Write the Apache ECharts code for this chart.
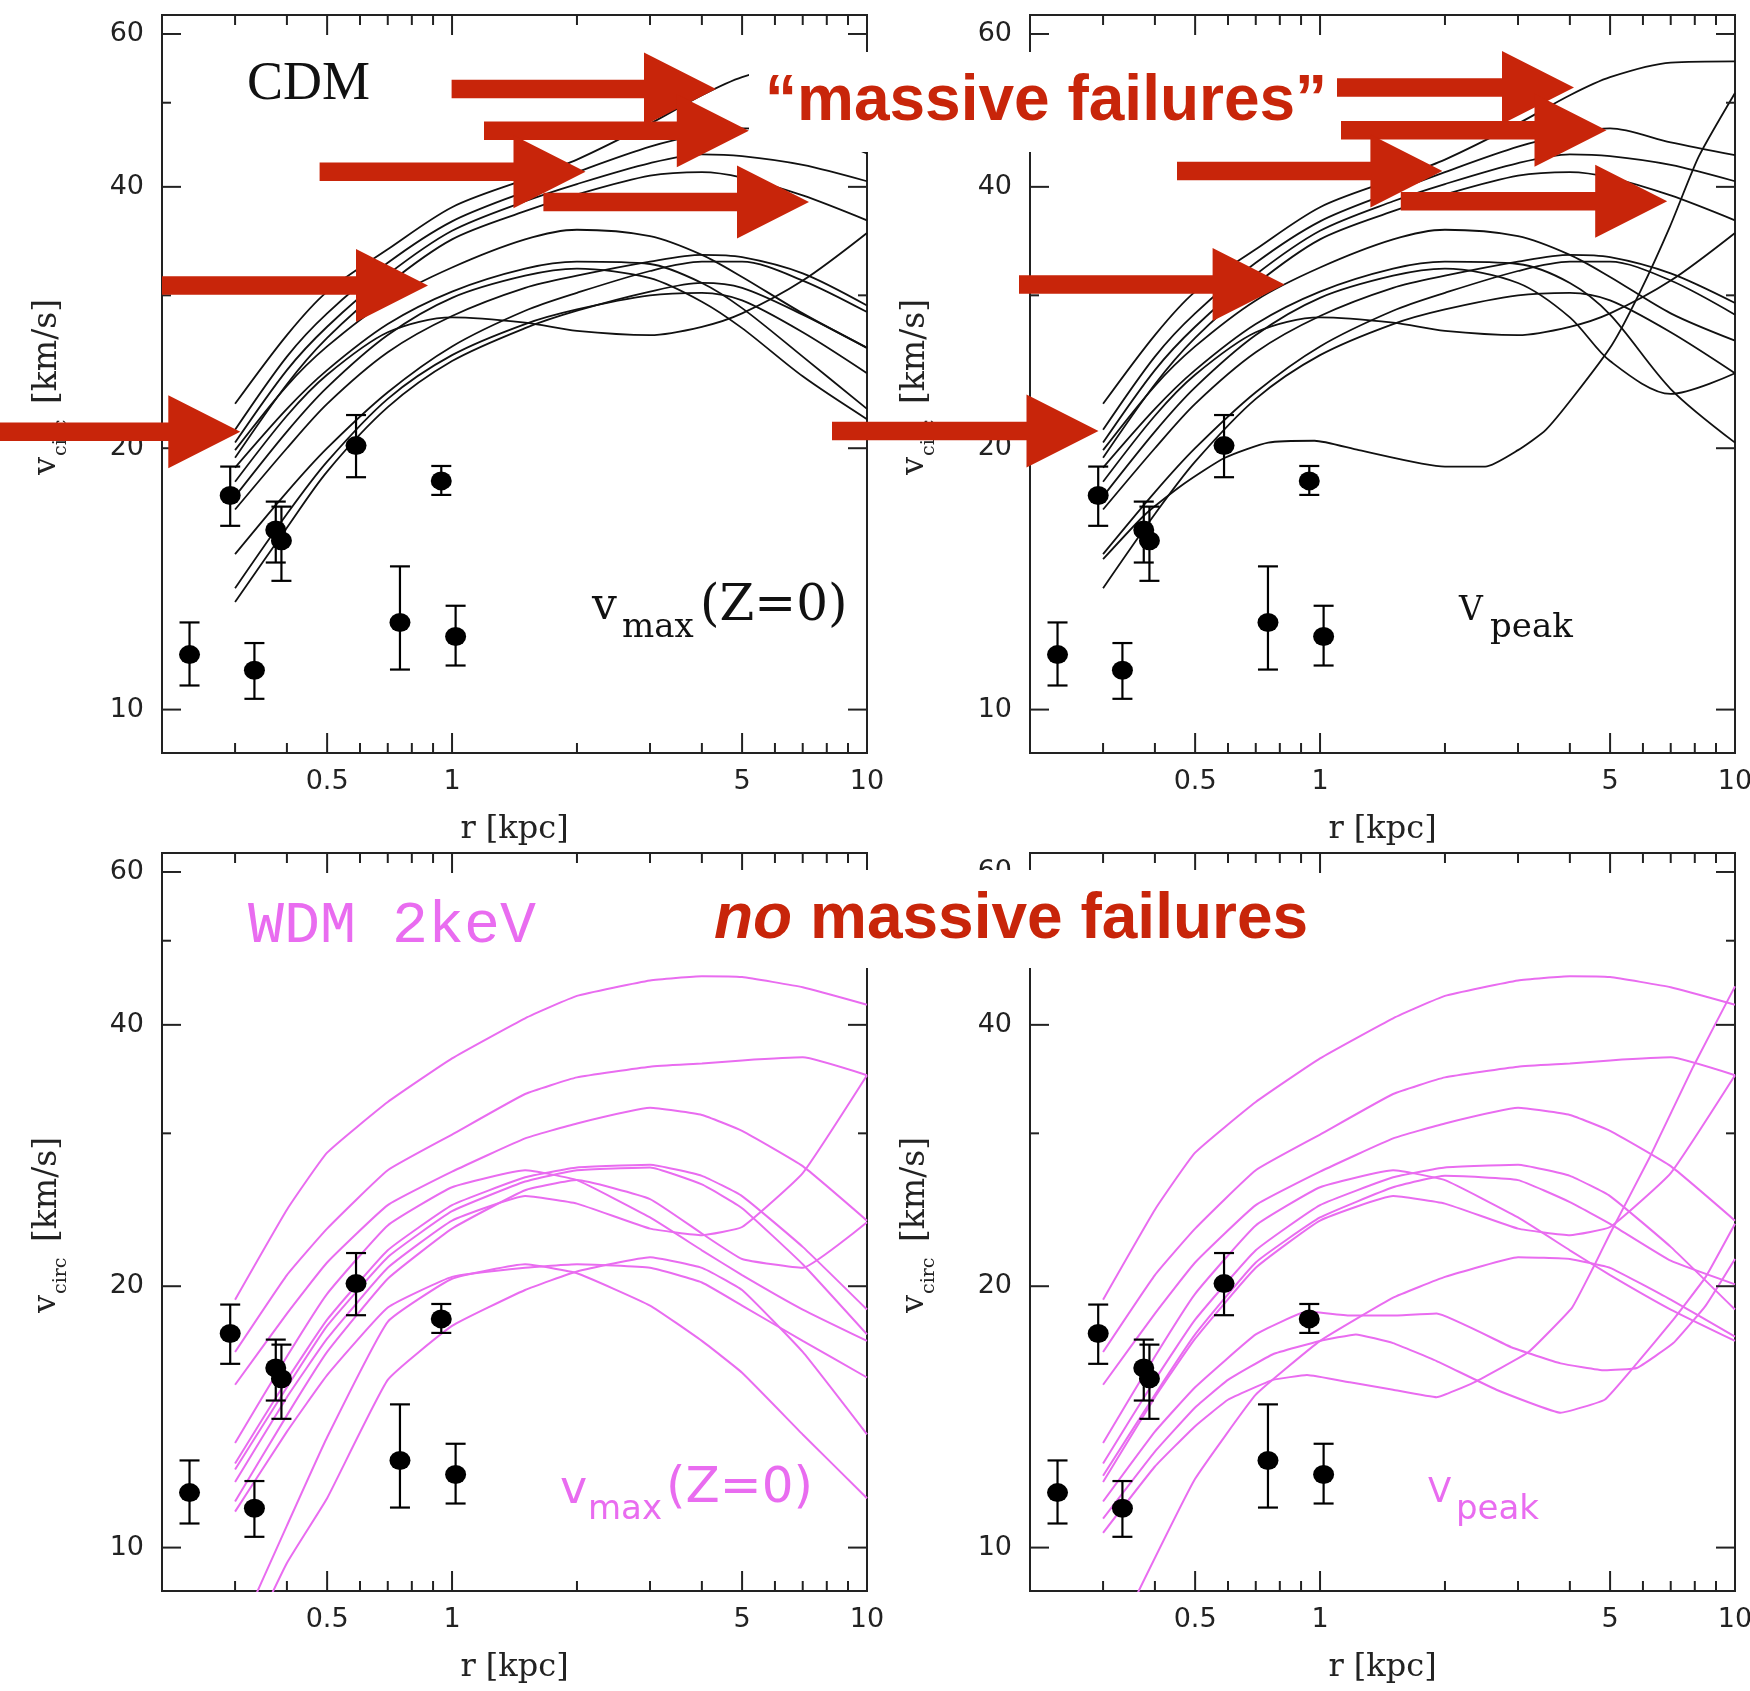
<!DOCTYPE html>
<html><head><meta charset="utf-8">
<script src="https://cdn.jsdelivr.net/npm/echarts@6/dist/echarts.min.js"></script>
<style>html,body{margin:0;padding:0;background:#fff}#c{width:1750px;height:1691px}</style>
</head><body><div id="c"></div>
<script>
// ---------------- DATA ----------------
const xMajorTicks = [0.5, 1, 5, 10];
const xMinorTicks = [0.3, 0.4, 0.6, 0.7, 0.8, 0.9, 2, 3, 4, 6, 7, 8, 9];
const yMajorTicks = [10, 20, 40, 60];
const yMinorTicks = [30, 50];

// observed dwarf spheroidals (r [kpc], v_circ [km/s], error range)
const obsR  = [0.233, 0.292, 0.334, 0.376, 0.388, 0.587, 0.749, 0.942, 1.02];
const obsV  = [11.57, 17.64, 11.10, 16.10, 15.65, 20.14, 12.60, 18.34, 12.14];
const obsLo = [10.66, 16.28, 10.29, 14.77, 14.07, 18.52, 11.12, 17.67, 11.24];
const obsHi = [12.60, 19.05, 11.93, 17.36, 17.13, 21.84, 14.62, 19.08, 13.17];

// common radius grid for the rotation curves
const rGrid = [0.3, 0.4, 0.5, 0.7, 1, 1.5, 2, 3, 4, 5, 7, 10];

// CDM, vmax(z=0) selection
const cdmVmaxCurves = [
  [22.5, 27.0, 30.3, 33.9, 37.9, 40.8, 43.0, 47.3, 51.0, 53.5, 55.6, 55.8],
  [21.0, 25.5, 28.6, 32.7, 36.5, 39.5, 41.6, 44.5, 46.0, 46.7, 46.3, 43.7],
  [20.3, 24.6, 27.6, 31.7, 35.6, 38.5, 40.3, 42.6, 43.6, 43.4, 42.4, 40.6],
  [19.5, 23.7, 26.8, 30.9, 34.8, 37.5, 39.2, 41.2, 41.6, 41.0, 39.1, 36.6],
  [19.9, 23.6, 26.2, 29.6, 32.3, 34.8, 35.7, 35.1, 33.4, 31.5, 28.6, 26.1],
  [19.0, 22.2, 24.6, 27.8, 30.3, 32.2, 32.8, 32.6, 31.0, 29.0, 25.5, 22.2],
  [17.6, 20.9, 23.5, 27.0, 29.8, 31.6, 32.2, 31.4, 29.5, 27.5, 24.2, 21.6],
  [18.3, 21.8, 24.3, 27.2, 28.3, 27.9, 27.3, 27.0, 27.6, 28.6, 31.2, 35.4],
  [17.0, 20.0, 22.5, 25.8, 28.4, 30.6, 31.6, 32.8, 33.4, 33.2, 31.8, 29.2],
  [15.1, 17.8, 20.0, 23.2, 26.2, 28.8, 30.2, 32.0, 32.8, 32.8, 31.2, 28.7],
  [13.8, 16.8, 19.3, 22.8, 25.6, 27.8, 28.9, 30.0, 30.2, 29.6, 27.2, 24.4],
  [13.3, 16.2, 18.8, 22.3, 25.2, 27.5, 28.8, 30.3, 31.0, 30.6, 28.5, 26.1]
];
// CDM, Vpeak selection
const cdmVpeakCurves = [
  [22.5, 27.0, 30.3, 33.9, 37.9, 40.8, 43.0, 47.3, 51.0, 53.5, 55.6, 55.8],
  [21.0, 25.5, 28.6, 32.7, 36.5, 39.5, 41.6, 44.5, 46.0, 46.7, 45.0, 43.5],
  [20.3, 24.6, 27.6, 31.7, 35.6, 38.5, 40.3, 42.6, 43.6, 43.4, 42.4, 40.6],
  [19.5, 23.7, 26.8, 30.9, 34.8, 37.5, 39.2, 41.2, 41.6, 41.0, 39.1, 36.6],
  [19.9, 23.6, 26.2, 29.6, 32.3, 34.8, 35.7, 35.1, 33.4, 31.5, 28.6, 26.6],
  [19.0, 22.2, 24.6, 27.8, 30.3, 32.2, 32.8, 32.6, 31.0, 28.5, 23.4, 20.3],
  [17.6, 20.9, 23.5, 27.0, 29.8, 31.6, 32.2, 31.0, 28.3, 25.2, 23.1, 24.4],
  [18.3, 21.8, 24.3, 27.2, 28.3, 27.9, 27.3, 27.0, 27.6, 28.6, 31.2, 35.4],
  [17.0, 20.0, 22.5, 25.8, 28.4, 30.6, 31.6, 32.8, 33.4, 33.2, 31.8, 29.4],
  [15.1, 17.8, 20.0, 23.2, 26.2, 28.8, 30.2, 32.0, 32.8, 32.8, 31.2, 28.5],
  [13.8, 16.8, 19.3, 22.8, 25.6, 27.8, 28.9, 30.0, 30.2, 29.6, 27.2, 24.4]
];
const cdmVpeakDipR = [0.3, 0.38, 0.47, 0.59, 0.75, 0.97, 1.24, 2.0, 2.5, 3.0, 3.5, 4.1, 5.05, 5.93, 6.97, 8.17, 10];
const cdmVpeakDipV = [14.9, 16.8, 18.2, 19.5, 20.3, 20.4, 19.9, 19.05, 19.05, 19.9, 21.0, 23.0, 26.3, 30.4, 36.0, 43.3, 51.3];

// WDM 2keV, vmax(z=0) selection
const wdmVmaxCurves = [
  [19.3, 24.5, 28.5, 32.6, 36.6, 40.7, 43.2, 45.0, 45.5, 45.4, 44.2, 42.2],
  [16.8, 20.6, 23.3, 27.2, 29.9, 33.3, 34.8, 35.8, 36.1, 36.4, 36.7, 35.0],
  [15.4, 18.6, 21.3, 24.8, 27.1, 29.6, 30.8, 32.1, 31.5, 30.2, 27.5, 23.8],
  [13.2, 16.6, 19.6, 23.5, 26.0, 27.2, 26.5, 24.0, 22.0, 20.6, 18.8, 17.3],
  [12.5, 15.6, 18.3, 22.0, 24.8, 26.7, 27.4, 27.6, 26.8, 25.4, 22.2, 18.8],
  [12.3, 15.3, 18.0, 21.6, 24.4, 26.4, 27.2, 27.4, 26.2, 24.6, 21.2, 17.6],
  [11.9, 14.9, 17.4, 21.0, 23.8, 25.4, 24.9, 23.3, 22.9, 23.4, 27.0, 35.0],
  [11.3, 14.2, 16.8, 20.4, 23.3, 25.8, 26.5, 25.2, 23.0, 21.5, 21.0, 23.7],
  [7.8, 10.6, 13.4, 18.2, 20.4, 21.2, 20.7, 19.0, 17.3, 15.9, 13.5, 11.4],
  [7.2, 9.6, 11.4, 15.6, 18.0, 19.8, 20.8, 21.6, 21.0, 19.8, 16.8, 13.5],
  [11.0, 13.6, 15.8, 18.9, 20.5, 21.0, 21.2, 21.0, 20.2, 19.0, 17.3, 15.7]
];
// WDM 2keV, Vpeak selection
const wdmVpeakCurves = [
  [19.3, 24.5, 28.5, 32.6, 36.6, 40.7, 43.2, 45.0, 45.5, 45.4, 44.2, 42.2],
  [16.8, 20.6, 23.3, 27.2, 29.9, 33.3, 34.8, 35.8, 36.1, 36.4, 36.7, 35.0],
  [15.4, 18.6, 21.3, 24.8, 27.1, 29.6, 30.8, 32.1, 31.5, 30.2, 27.5, 23.8],
  [13.2, 16.6, 19.6, 23.5, 26.0, 27.2, 26.5, 24.0, 22.0, 20.6, 18.8, 17.3],
  [12.5, 15.6, 18.3, 22.0, 24.8, 26.7, 27.4, 27.6, 26.8, 25.4, 22.2, 18.8],
  [11.9, 14.9, 17.4, 21.0, 23.8, 25.4, 24.9, 23.3, 22.9, 23.4, 27.0, 35.0],
  [12.1, 15.0, 17.6, 21.3, 24.0, 26.0, 26.8, 26.5, 25.0, 23.6, 21.4, 20.1]
];
const wdmVpeakD1R = [0.3, 0.4, 0.5, 0.6, 0.77, 0.93, 1.18, 1.5, 1.91, 2.35, 3.18, 4.05, 4.55, 5.0, 6.24, 7.93, 10];
const wdmVpeakD1V = [10.4, 12.4, 13.8, 14.8, 15.6, 15.8, 15.5, 15.2, 14.9, 15.5, 16.8, 18.9, 21.0, 23.0, 28.2, 35.8, 44.3];
const wdmVpeakD2R = [0.3, 0.4, 0.5, 0.6, 0.77, 1.0, 1.22, 1.5, 1.91, 2.66, 3.8, 4.85, 5.8, 7.1, 8.5, 10];
const wdmVpeakD2V = [10.8, 12.9, 14.5, 15.6, 16.7, 17.3, 17.6, 17.2, 16.4, 15.2, 14.3, 14.8, 16.3, 18.3, 20.5, 23.6];
const wdmVpeakD3R = [0.3, 0.4, 0.5, 0.7, 0.93, 1.18, 1.5, 1.91, 2.9, 3.8, 4.85, 5.8, 7.1, 8.5, 10];
const wdmVpeakD3V = [11.3, 13.6, 15.3, 17.6, 18.7, 18.5, 18.5, 18.6, 17.0, 16.3, 16.0, 16.1, 17.2, 19.0, 21.5];
const wdmVpeakD4R = [0.3, 0.365, 0.5, 0.7, 1.0, 1.5, 2.0, 3.0, 4.0, 5.0, 7.0, 10];
const wdmVpeakD4V = [7.3, 8.9, 12.0, 15.0, 17.3, 19.4, 20.5, 21.6, 21.5, 21.0, 19.3, 17.5];

// ---------------- LAYOUT / STYLE ----------------
const X_MIN = 0.2, X_MAX = 10;
const Y_MIN = Math.pow(10, 0.95), Y_MAX = Math.pow(10, 1.8);
const GRIDS = [[162, 15], [1030, 15], [162, 853], [1030, 853]];
const GW = 705, GH = 738;
const BLACK = '#111111', MAG = '#e96cf0', RED = '#c8250a', AXC = '#222222';

const chart = echarts.init(document.getElementById('c'), null, {renderer: 'canvas', width: 1750, height: 1691});

const grid = GRIDS.map(g => ({left: g[0], top: g[1], width: GW, height: GH, show: true,
  borderColor: AXC, borderWidth: 2, backgroundColor: 'transparent', containLabel: false}));
const hidden = {axisLine: {show: false}, axisTick: {show: false}, axisLabel: {show: false}, splitLine: {show: false}};
const xAxis = GRIDS.map((g, i) => Object.assign({type: 'log', logBase: 10, gridIndex: i, min: X_MIN, max: X_MAX}, hidden));
const yAxis = GRIDS.map((g, i) => Object.assign({type: 'log', logBase: 10, gridIndex: i, min: Y_MIN, max: Y_MAX}, hidden));

const series = [];
function addCurve(g, rs, vs, color, width, smooth) {
  series.push({type: 'line', xAxisIndex: g, yAxisIndex: g, data: rs.map((r, i) => [r, vs[i]]),
    symbol: 'none', showSymbol: false, smooth: smooth, clip: true, silent: true,
    lineStyle: {color: color, width: width}, z: 3});
}
cdmVmaxCurves.forEach(c => addCurve(0, rGrid, c, BLACK, 1.8, 0.3));
cdmVpeakCurves.forEach(c => addCurve(1, rGrid, c, BLACK, 1.8, 0.3));
addCurve(1, cdmVpeakDipR, cdmVpeakDipV, BLACK, 1.8, 0.2);
wdmVmaxCurves.forEach(c => addCurve(2, rGrid, c, MAG, 2, 0.12));
wdmVpeakCurves.forEach(c => addCurve(3, rGrid, c, MAG, 2, 0.12));
addCurve(3, wdmVpeakD1R, wdmVpeakD1V, MAG, 2, 0.1);
addCurve(3, wdmVpeakD2R, wdmVpeakD2V, MAG, 2, 0.1);
addCurve(3, wdmVpeakD3R, wdmVpeakD3V, MAG, 2, 0.1);
addCurve(3, wdmVpeakD4R, wdmVpeakD4V, MAG, 2, 0.1);

function T(text, x, y, font, fill, align, extra) {
  return Object.assign({type: 'text', x: x, y: y, style: {text: text, font: font, fill: fill,
    textAlign: align || 'left', align: align || 'left', textVerticalAlign: 'middle', verticalAlign: 'middle'}}, extra || {});
}

// ticks + tick labels drawn through each grid's log scales
const tickData = [];
xMajorTicks.forEach(v => tickData.push([v, Y_MIN, 0]));
xMinorTicks.forEach(v => tickData.push([v, Y_MIN, 1]));
yMajorTicks.forEach(v => tickData.push([X_MIN, v, 2]));
yMinorTicks.forEach(v => tickData.push([X_MIN, v, 3]));
function renderTick(params, api) {
  const a = api.value(0), b = api.value(1), k = api.value(2);
  const st = {stroke: AXC, lineWidth: 2};
  const ch = [];
  if (k < 2) {
    const len = k === 0 ? 20 : 10;
    const pb = api.coord([a, Y_MIN]), pt = api.coord([a, Y_MAX]);
    ch.push({type: 'line', shape: {x1: pb[0], y1: pb[1], x2: pb[0], y2: pb[1] - len}, style: st});
    ch.push({type: 'line', shape: {x1: pt[0], y1: pt[1], x2: pt[0], y2: pt[1] + len}, style: st});
    if (k === 0) ch.push(T(String(a), pb[0], pb[1] + 29, '27px "DejaVu Sans"', AXC, 'center'));
  } else {
    const len = k === 2 ? 19 : 9;
    const pl = api.coord([X_MIN, b]), pr = api.coord([X_MAX, b]);
    ch.push({type: 'line', shape: {x1: pl[0], y1: pl[1], x2: pl[0] + len, y2: pl[1]}, style: st});
    ch.push({type: 'line', shape: {x1: pr[0], y1: pr[1], x2: pr[0] - len, y2: pr[1]}, style: st});
    if (k === 2) ch.push(T(String(b), pl[0] - 18, pl[1], '27px "DejaVu Sans"', AXC, 'right'));
  }
  return {type: 'group', children: ch};
}
function renderErr(params, api) {
  const lo = api.coord([api.value(0), api.value(1)]);
  const hi = api.coord([api.value(0), api.value(2)]);
  const st = {stroke: '#000', lineWidth: 2.2};
  return {type: 'group', children: [
    {type: 'line', shape: {x1: lo[0], y1: lo[1], x2: hi[0], y2: hi[1]}, style: st},
    {type: 'line', shape: {x1: lo[0] - 10, y1: lo[1], x2: lo[0] + 10, y2: lo[1]}, style: st},
    {type: 'line', shape: {x1: hi[0] - 10, y1: hi[1], x2: hi[0] + 10, y2: hi[1]}, style: st}
  ]};
}
for (let g = 0; g < 4; g++) {
  series.push({type: 'custom', xAxisIndex: g, yAxisIndex: g, data: tickData, encode: {x: 0, y: 1},
    renderItem: renderTick, clip: false, silent: true, z: 6});
  series.push({type: 'custom', xAxisIndex: g, yAxisIndex: g, data: obsR.map((r, i) => [r, obsLo[i], obsHi[i]]),
    encode: {x: 0, y: [1, 2]}, renderItem: renderErr, silent: true, z: 7});
  series.push({type: 'scatter', xAxisIndex: g, yAxisIndex: g, data: obsR.map((r, i) => [r, obsV[i]]),
    symbol: 'circle', symbolSize: [21, 19], itemStyle: {color: '#000', opacity: 1}, silent: true, z: 8});
}

// ---------------- ANNOTATIONS ----------------
const graphic = [];
graphic.push({type: 'rect', shape: {x: 749, y: 52, width: 586, height: 100}, style: {fill: '#fff'}, z: 50});
graphic.push({type: 'rect', shape: {x: 700, y: 870, width: 618, height: 98}, style: {fill: '#fff'}, z: 50});

const arrowTail = [451.6, 484, 319.6, 543.4, 162, 0, 1337, 1341, 1177, 1400.8, 1019, 832];
const arrowTip  = [716, 748.8, 585.5, 809, 428, 240.3, 1574, 1606.5, 1442.4, 1667.2, 1284.6, 1098.5];
const arrowY    = [89, 130.8, 171.8, 202, 285.5, 431.7, 87.5, 130.2, 171, 201.2, 284.5, 431];
arrowTail.forEach((t, i) => {
  const tip = arrowTip[i], y = arrowY[i], base = tip - 72, h = 9.3, H = 36.5;
  graphic.push({type: 'polygon', shape: {points: [[t, y - h], [base, y - h], [base, y - H], [tip, y], [base, y + H], [base, y + h], [t, y + h]]},
    style: {fill: RED}, z: 60});
});

graphic.push(T('\u201Cmassive failures\u201D', 765, 102, 'bold 64px "Liberation Sans", Arial, sans-serif', RED, 'left', {z: 61}));
graphic.push(T('no', 714, 920, 'italic bold 64px "Liberation Sans", Arial, sans-serif', RED, 'left', {z: 61}));
graphic.push(T('massive failures', 810, 920, 'bold 64px "Liberation Sans", Arial, sans-serif', RED, 'left', {z: 61}));

// panel labels
graphic.push(T('CDM', 247, 85, '54px "Liberation Serif", serif', '#111', 'left', {z: 40}));
graphic.push(T('WDM 2keV', 248, 926, '60px "Liberation Mono", monospace', MAG, 'left', {z: 40}));
// v_max(Z=0) top-left
graphic.push(T('v', 592, 608, '44px "DejaVu Serif", serif', '#111', 'left', {z: 40}));
graphic.push(T('max', 622, 628, '34px "DejaVu Serif", serif', '#111', 'left', {z: 40}));
graphic.push(T('(Z=0)', 700, 607, '50px "DejaVu Serif", serif', '#111', 'left', {z: 40}));
// V_peak top-right
graphic.push(T('V', 1459, 611, '33px "DejaVu Serif", serif', '#111', 'left', {z: 40}));
graphic.push(T('peak', 1490, 628, '34px "DejaVu Serif", serif', '#111', 'left', {z: 40}));
// v_max(Z=0) bottom-left
graphic.push(T('v', 560, 1491, '46px "DejaVu Sans", sans-serif', MAG, 'left', {z: 40}));
graphic.push(T('max', 588, 1510, '34px "DejaVu Sans", sans-serif', MAG, 'left', {z: 40}));
graphic.push(T('(Z=0)', 666, 1489, '50px "DejaVu Sans", sans-serif', MAG, 'left', {z: 40}));
// V_peak bottom-right
graphic.push(T('V', 1428, 1493, '34px "DejaVu Sans", sans-serif', MAG, 'left', {z: 40}));
graphic.push(T('peak', 1456, 1510, '34px "DejaVu Sans", sans-serif', MAG, 'left', {z: 40}));

// axis titles
GRIDS.forEach(g => {
  const cx = g[0] + GW / 2, cy = g[1] + GH / 2;
  graphic.push(T('r [kpc]', cx, g[1] + GH + 77, '32px "DejaVu Serif", serif', AXC, 'center', {z: 30}));
  graphic.push({type: 'group', x: g[0] - 115, y: cy, rotation: Math.PI / 2, z: 30, children: [
    T('v', -91, 0, '32px "DejaVu Serif", serif', AXC, 'left'),
    T('circ', -72, 14, '19px "DejaVu Serif", serif', AXC, 'left'),
    T('[km/s]', -20, 0, '33px "DejaVu Serif", serif', AXC, 'left')
  ]});
});

chart.setOption({animation: false, backgroundColor: '#fff', grid: grid, xAxis: xAxis, yAxis: yAxis, series: series, graphic: graphic});
</script></body></html>
